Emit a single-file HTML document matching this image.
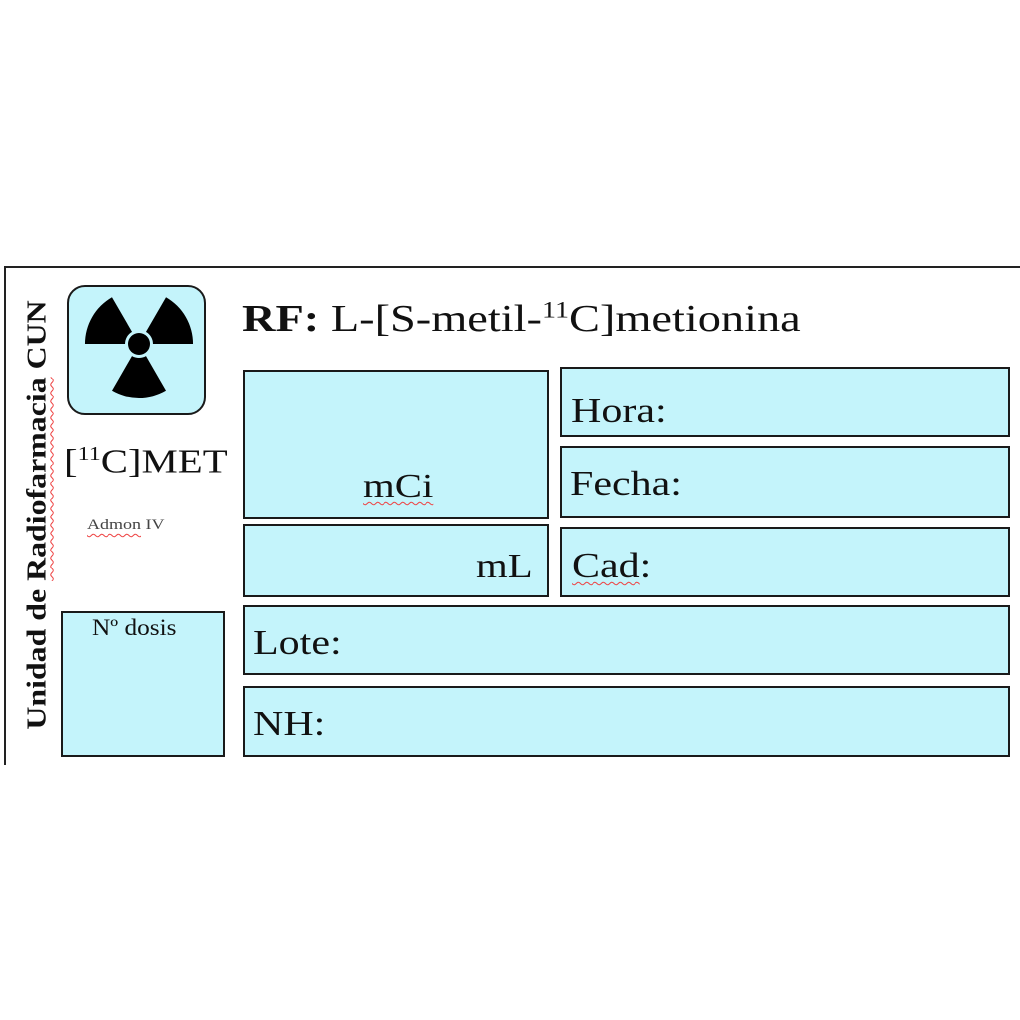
<!DOCTYPE html>
<html><head><meta charset="utf-8"><style>
body{margin:0;width:1020px;height:1020px;background:#fff;position:relative;overflow:hidden;font-family:"Liberation Serif",serif;color:#111}
.b{position:absolute;background:#c4f4fb;border:2.5px solid #1a1a1a;box-sizing:border-box}
.t{position:absolute;white-space:nowrap;transform-origin:0 50%;transform:scaleX(1.2)}
.sq{text-decoration:underline wavy #e44;text-decoration-thickness:1px;text-underline-offset:4px}
</style></head><body>
<div style="position:absolute;left:4px;top:266px;width:1030px;height:497px;border-left:2.5px solid #222;border-top:2.5px solid #222"></div>
<div style="position:absolute;left:37px;top:515px;transform:translate(-50%,-50%) rotate(-90deg) scaleX(1.18);font-size:27px;font-weight:bold;white-space:nowrap">Unidad de <span class="sq">Radiofarmacia</span> CUN</div>
<div class="b" style="left:67px;top:285px;width:139px;height:130px;border-radius:18px"></div>
<svg style="position:absolute;left:0;top:0" width="300" height="450">
<g fill="#000" transform="translate(139,344)">
<circle r="11"/>
<path d="M7,12.1 L27,46.8 A54,54 0 0 1 -27,46.8 L-7,12.1 A14,14 0 0 0 7,12.1Z"/>
<path d="M7,12.1 L27,46.8 A54,54 0 0 1 -27,46.8 L-7,12.1 A14,14 0 0 0 7,12.1Z" transform="rotate(120)"/>
<path d="M7,12.1 L27,46.8 A54,54 0 0 1 -27,46.8 L-7,12.1 A14,14 0 0 0 7,12.1Z" transform="rotate(240)"/>
</g></svg>
<div class="t" style="left:64px;top:443px;font-size:34px">[<sup style="font-size:20px">11</sup>C]MET</div>
<div class="t" style="left:87px;top:517px;font-size:15px;color:#444"><span class="sq">Admon</span> IV</div>
<div class="t" style="left:242px;top:297px;font-size:38px;transform:scaleX(1.22)"><b>RF:</b> L-[S-metil-<sup style="font-size:23px">11</sup>C]metionina</div>
<div class="b" style="left:243px;top:370px;width:306px;height:149px"></div>
<div class="t sq" style="left:363px;top:468px;font-size:34px">mCi</div>
<div class="b" style="left:243px;top:524px;width:306px;height:73px"></div>
<div class="t" style="left:476px;top:548px;font-size:34px">mL</div>
<div class="b" style="left:560px;top:367px;width:450px;height:70px"></div>
<div class="t" style="left:571px;top:391px;font-size:35px">Hora:</div>
<div class="b" style="left:560px;top:446px;width:450px;height:72px"></div>
<div class="t" style="left:570px;top:464px;font-size:35px">Fecha:</div>
<div class="b" style="left:560px;top:527px;width:450px;height:70px"></div>
<div class="t" style="left:572px;top:546px;font-size:35px"><span class="sq">Cad</span>:</div>
<div class="b" style="left:243px;top:605px;width:767px;height:70px"></div>
<div class="t" style="left:253px;top:623px;font-size:35px">Lote:</div>
<div class="b" style="left:243px;top:686px;width:767px;height:71px"></div>
<div class="t" style="left:253px;top:704px;font-size:35px">NH:</div>
<div class="b" style="left:61px;top:611px;width:164px;height:146px"></div>
<div class="t" style="left:92px;top:615px;font-size:23px;transform:scaleX(1.1)">Nº dosis</div>
</body></html>
